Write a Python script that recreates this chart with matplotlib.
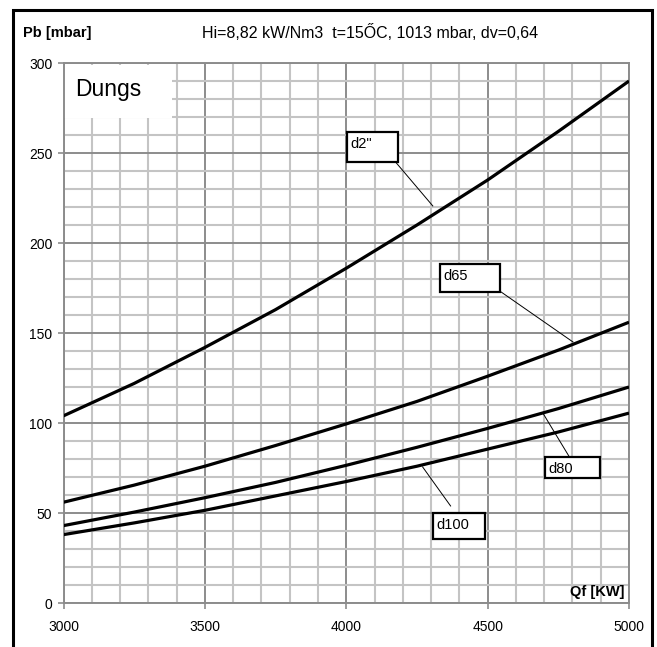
import matplotlib.pyplot as plt
from matplotlib.patches import Rectangle
from matplotlib.ticker import MultipleLocator

plt.rcParams['font.family'] = ['Liberation Sans', 'DejaVu Sans']

# Qf [kW] values where the curves were read
qf = [3000, 3250, 3500, 3750, 4000, 4250, 4500, 4750, 5000]

# Pb [mbar]
pb_d2 = [104, 122, 142, 163, 186, 210, 235, 262, 290]
pb_d65 = [56, 65.5, 76, 87.5, 99.5, 112, 126, 140.5, 156]
pb_d80 = [43, 50.5, 58.5, 67, 76.5, 86.5, 97, 108, 120]
pb_d100 = [38, 44.5, 51.5, 59.5, 67.5, 76, 85.5, 95, 105.5]

x_ticks = [3000, 3500, 4000, 4500, 5000]
y_ticks = [0, 50, 100, 150, 200, 250, 300]

title = 'Hi=8,82 kW/Nm3  t=15ŐC, 1013 mbar, dv=0,64'


def add_label(ax, text, box, tail, head):
    # box = (x0, y0, x1, y1) in data units, tail/head = leader line ends
    x0, y0, x1, y1 = box
    ax.add_patch(Rectangle((x0, y0), x1 - x0, y1 - y0, facecolor='white',
                           edgecolor='black', lw=1.6, zorder=5))
    ax.text(x0 + 12, y1 - 3, text, ha='left', va='top', fontsize=10.5, zorder=6)
    ax.plot([tail[0], head[0]], [tail[1], head[1]], color='black', lw=0.7, zorder=4)


def main():
    fig = plt.figure(figsize=(6.57, 6.47), dpi=100)
    ax = fig.add_axes([0.0967, 0.068, 0.8607, 0.8346])

    major = '#8c8c8c'
    minor = '#c4c4c4'

    ax.set_xlim(3000, 5000)
    ax.set_ylim(0, 300)
    ax.set_xticks(x_ticks)
    ax.set_yticks(y_ticks)
    ax.xaxis.set_minor_locator(MultipleLocator(100))
    ax.yaxis.set_minor_locator(MultipleLocator(10))
    ax.set_axisbelow(True)
    ax.grid(which='minor', color=minor, lw=1.5)
    ax.grid(which='major', color=major, lw=1.4)
    ax.tick_params(which='minor', length=0)
    ax.tick_params(which='major', length=4, width=1.2, color=major,
                   labelsize=10, direction='out')
    ax.tick_params(axis='x', pad=8)
    ax.tick_params(axis='y', pad=4)
    for s in ax.spines.values():
        s.set_color(major)
        s.set_linewidth(1.4)

    # white "Dungs" box covering the grid
    ax.add_patch(Rectangle((3002, 269.5), 383, 29.5, facecolor='white',
                           edgecolor='none', zorder=2.5))
    ax.text(3040, 285.5, 'Dungs', fontsize=16.5, va='center', ha='left', zorder=3)

    for pb in [pb_d2, pb_d65, pb_d80, pb_d100]:
        ax.plot(qf, pb, color='black', lw=2.3, zorder=3, solid_capstyle='butt')

    add_label(ax, 'd2"', (4001, 245, 4182, 261.7), (4171, 245.6), (4306, 220.6))
    add_label(ax, 'd65', (4330, 172.8, 4543, 188.3), (4543, 173.3), (4802, 145))
    add_label(ax, 'd80', (4702, 69.4, 4897, 81.1), (4787, 81.7), (4695, 105.6))
    add_label(ax, 'd100', (4305, 35.6, 4490, 50), (4369, 53.9), (4270, 75.6))

    ax.text(4985, 6, 'Qf [KW]', fontsize=10.5, fontweight='bold',
            ha='right', va='center', zorder=6)

    fig.text(23 / 657, 1 - 33 / 647, 'Pb [mbar]', fontsize=10.5,
             fontweight='bold', ha='left', va='center')
    fig.text(370 / 657, 1 - 33 / 647, title, fontsize=11.5,
             ha='center', va='center')

    # outer frame, bottom edge falls outside the picture
    fig.add_artist(Rectangle((12.5 / 657, -0.05), (652 - 12.5) / 657,
                             1.05 - 10 / 647, transform=fig.transFigure,
                             fill=False, edgecolor='black', lw=2.2))

    fig.savefig('out.png', dpi=100)


if __name__ == "__main__":
    main()
